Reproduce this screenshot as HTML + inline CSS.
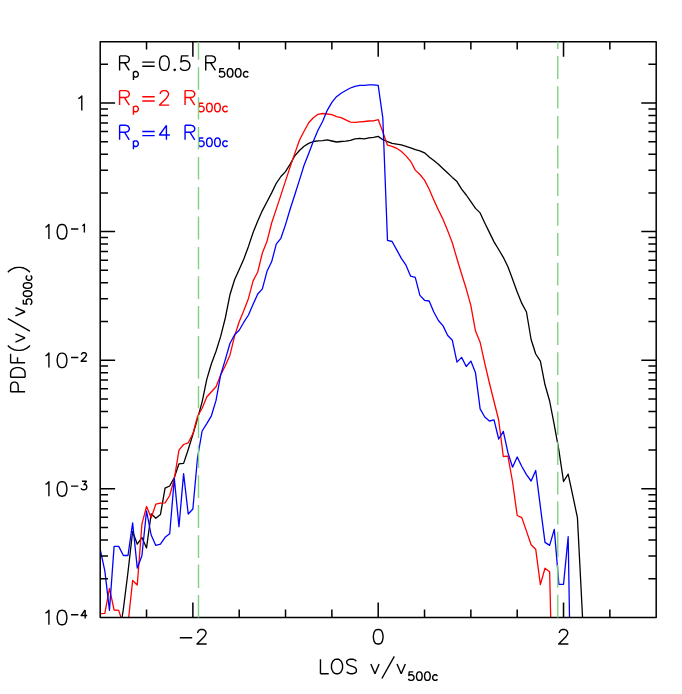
<!DOCTYPE html>
<html><head><meta charset="utf-8"><title>PDF of LOS velocity</title>
<style>html,body{margin:0;padding:0;background:#fff;font-family:"Liberation Sans",sans-serif}svg{display:block}</style></head>
<body>
<svg width="682" height="694" viewBox="0 0 682 694">
<rect width="682" height="694" fill="#fff"/>
<defs><clipPath id="c"><rect x="100.20" y="41.75" width="556.00" height="575.65"/></clipPath></defs>
<g clip-path="url(#c)" fill="none" stroke-width="1.30" stroke-linejoin="round" stroke-linecap="round">
<polyline points="118.73,640.00 123.37,609.00 128.00,572.00 132.63,531.50 137.27,544.20 141.90,537.50 146.53,548.00 151.17,513.80 155.80,518.20 160.43,514.60 165.07,488.10 169.70,486.00 174.33,477.50 178.97,463.80 183.60,463.40 188.23,449.50 192.87,434.50 197.50,418.80 202.13,401.80 206.77,379.40 211.40,363.70 216.03,351.20 220.67,336.40 225.30,318.00 229.93,294.80 234.57,279.80 239.20,269.60 243.83,258.90 248.47,246.40 253.10,232.50 257.73,221.00 262.37,210.60 267.00,201.80 271.63,192.90 276.27,183.30 280.90,176.50 285.53,171.60 290.17,164.00 294.80,155.90 299.43,150.50 304.07,146.30 308.70,143.40 313.33,141.50 317.97,140.90 322.60,140.60 327.23,139.90 331.87,141.00 336.50,142.00 341.13,141.50 345.77,141.20 350.40,140.40 355.03,138.90 359.67,138.30 364.30,138.80 368.93,137.90 373.57,137.40 378.20,136.40 382.83,139.70 387.47,141.60 392.10,143.40 396.73,144.10 401.37,144.90 406.00,146.40 410.63,147.80 415.27,149.60 419.90,150.80 424.53,152.80 429.17,156.90 433.80,160.60 438.43,164.30 443.07,168.70 447.70,173.00 452.33,177.40 456.97,181.60 461.60,189.20 466.23,195.00 470.87,201.70 475.50,208.40 480.13,212.90 484.77,222.90 489.40,232.40 494.03,241.90 498.67,249.50 503.30,257.30 507.93,266.80 512.57,279.30 517.20,292.00 521.83,303.40 526.47,312.00 531.10,339.50 535.73,354.00 540.37,361.10 545.00,384.80 549.63,401.00 554.27,424.80 558.90,450.40 563.53,481.50 568.17,474.10 572.80,495.70 577.43,517.70 582.07,608.00 586.70,700.00" stroke="#000"/>
<polyline points="100.20,613.70 104.83,613.30 109.47,588.30 114.10,610.00 118.73,610.40 123.37,625.00 128.00,624.00 132.63,580.50 137.27,585.00 141.90,524.20 146.53,506.40 151.17,517.80 155.80,504.20 160.43,503.20 165.07,502.80 169.70,495.50 174.33,478.50 178.97,450.20 183.60,444.50 188.23,442.80 192.87,433.80 197.50,416.50 202.13,408.30 206.77,397.00 211.40,391.80 216.03,386.70 220.67,375.00 225.30,365.70 229.93,355.20 234.57,336.10 239.20,321.80 243.83,310.50 248.47,298.40 253.10,280.90 257.73,272.00 262.37,253.00 267.00,241.30 271.63,223.00 276.27,209.10 280.90,195.10 285.53,180.90 290.17,166.90 294.80,153.40 299.43,140.20 304.07,131.30 308.70,122.80 313.33,117.70 317.97,114.30 322.60,113.50 327.23,114.00 331.87,114.70 336.50,116.60 341.13,117.70 345.77,119.90 350.40,122.10 355.03,122.30 359.67,121.80 364.30,121.50 368.93,121.00 373.57,120.90 378.20,119.60 382.83,132.00 387.47,145.20 392.10,146.30 396.73,148.30 401.37,151.50 406.00,155.90 410.63,161.30 415.27,170.10 419.90,174.50 424.53,180.10 429.17,189.20 433.80,199.90 438.43,210.00 443.07,219.40 447.70,230.80 452.33,242.80 456.97,258.70 461.60,274.00 466.23,288.80 470.87,305.70 475.50,331.10 480.13,342.30 484.77,363.30 489.40,383.00 494.03,401.50 498.67,420.00 503.30,456.50 507.93,456.20 512.57,482.00 517.20,515.50 521.83,517.70 526.47,531.10 531.10,544.70 535.73,549.30 540.37,584.60 545.00,568.20 549.63,571.70 554.27,768.00" stroke="#ff0000"/>
<polyline points="100.20,549.40 104.83,570.80 109.47,610.30 114.10,546.40 118.73,546.40 123.37,555.50 128.00,555.50 132.63,522.80 137.27,568.10 141.90,555.80 146.53,511.00 151.17,535.00 155.80,545.40 160.43,544.20 165.07,537.30 169.70,533.70 174.33,478.50 178.97,526.70 183.60,473.60 188.23,514.00 192.87,509.00 197.50,458.00 202.13,431.00 206.77,423.60 211.40,415.80 216.03,400.40 220.67,375.00 225.30,359.60 229.93,343.50 234.57,334.70 239.20,330.30 243.83,322.20 248.47,315.00 253.10,304.30 257.73,294.00 262.37,288.90 267.00,271.30 271.63,261.80 276.27,244.20 280.90,238.30 285.53,224.60 290.17,209.00 294.80,194.80 299.43,180.10 304.07,165.20 308.70,153.40 313.33,141.20 317.97,130.30 322.60,121.50 327.23,110.30 331.87,102.30 336.50,96.70 341.13,93.20 345.77,90.50 350.40,88.00 355.03,86.30 359.67,85.40 364.30,85.30 368.93,84.90 373.57,84.90 378.20,85.40 382.83,118.20 387.47,240.30 392.10,241.50 396.73,249.90 401.37,258.40 406.00,265.20 410.63,276.20 415.27,277.40 419.90,295.40 424.53,300.30 429.17,301.00 433.80,312.00 438.43,320.50 443.07,325.90 447.70,335.50 452.33,340.30 456.97,362.10 461.60,357.40 466.23,366.50 470.87,361.10 475.50,372.80 480.13,408.90 484.77,417.00 489.40,421.00 494.03,419.80 498.67,439.00 503.30,431.40 507.93,452.70 512.57,467.20 517.20,457.00 521.83,466.50 526.47,474.60 531.10,481.00 535.73,470.50 540.37,506.70 545.00,542.40 549.63,545.40 554.27,529.40 558.90,584.30 563.53,584.30 568.17,536.70 572.80,815.00" stroke="#0000ff"/>
</g>
<path d="M146.53 617.40 V609.60 M146.53 41.75 V49.55 M192.87 617.40 V602.50 M192.87 41.75 V56.65 M239.20 617.40 V609.60 M239.20 41.75 V49.55 M285.53 617.40 V609.60 M285.53 41.75 V49.55 M331.87 617.40 V609.60 M331.87 41.75 V49.55 M378.20 617.40 V602.50 M378.20 41.75 V56.65 M424.53 617.40 V609.60 M424.53 41.75 V49.55 M470.87 617.40 V609.60 M470.87 41.75 V49.55 M517.20 617.40 V609.60 M517.20 41.75 V49.55 M563.53 617.40 V602.50 M563.53 41.75 V56.65 M609.87 617.40 V609.60 M609.87 41.75 V49.55 M100.20 578.69 H108.00 M656.20 578.69 H648.40 M100.20 556.04 H108.00 M656.20 556.04 H648.40 M100.20 539.98 H108.00 M656.20 539.98 H648.40 M100.20 527.51 H108.00 M656.20 527.51 H648.40 M100.20 517.33 H108.00 M656.20 517.33 H648.40 M100.20 508.72 H108.00 M656.20 508.72 H648.40 M100.20 501.26 H108.00 M656.20 501.26 H648.40 M100.20 494.68 H108.00 M656.20 494.68 H648.40 M100.20 488.80 H115.10 M656.20 488.80 H641.30 M100.20 450.09 H108.00 M656.20 450.09 H648.40 M100.20 427.44 H108.00 M656.20 427.44 H648.40 M100.20 411.38 H108.00 M656.20 411.38 H648.40 M100.20 398.91 H108.00 M656.20 398.91 H648.40 M100.20 388.73 H108.00 M656.20 388.73 H648.40 M100.20 380.12 H108.00 M656.20 380.12 H648.40 M100.20 372.66 H108.00 M656.20 372.66 H648.40 M100.20 366.08 H108.00 M656.20 366.08 H648.40 M100.20 360.20 H115.10 M656.20 360.20 H641.30 M100.20 321.49 H108.00 M656.20 321.49 H648.40 M100.20 298.84 H108.00 M656.20 298.84 H648.40 M100.20 282.78 H108.00 M656.20 282.78 H648.40 M100.20 270.31 H108.00 M656.20 270.31 H648.40 M100.20 260.13 H108.00 M656.20 260.13 H648.40 M100.20 251.52 H108.00 M656.20 251.52 H648.40 M100.20 244.06 H108.00 M656.20 244.06 H648.40 M100.20 237.48 H108.00 M656.20 237.48 H648.40 M100.20 231.60 H115.10 M656.20 231.60 H641.30 M100.20 192.89 H108.00 M656.20 192.89 H648.40 M100.20 170.24 H108.00 M656.20 170.24 H648.40 M100.20 154.18 H108.00 M656.20 154.18 H648.40 M100.20 141.71 H108.00 M656.20 141.71 H648.40 M100.20 131.53 H108.00 M656.20 131.53 H648.40 M100.20 122.92 H108.00 M656.20 122.92 H648.40 M100.20 115.46 H108.00 M656.20 115.46 H648.40 M100.20 108.88 H108.00 M656.20 108.88 H648.40 M100.20 103.00 H115.10 M656.20 103.00 H641.30 M100.20 64.29 H108.00 M656.20 64.29 H648.40" stroke="#000" stroke-width="1.50" fill="none"/>
<rect x="100.20" y="41.75" width="556.00" height="575.65" fill="none" stroke="#000" stroke-width="1.50" stroke-linejoin="round"/>
<path d="M78.34 98.67 L79.72 97.98 L81.79 95.91 L81.79 110.40 M45.47 227.27 L46.85 226.58 L48.92 224.51 L48.92 239.00 M61.34 224.51 L59.27 225.20 L57.89 227.27 L57.20 230.72 L57.20 232.79 L57.89 236.24 L59.27 238.31 L61.34 239.00 L62.72 239.00 L64.79 238.31 L66.17 236.24 L66.86 232.79 L66.86 230.72 L66.17 227.27 L64.79 225.20 L62.72 224.51 L61.34 224.51 M71.05 228.97 L78.31 228.97 M82.35 225.74 L83.16 225.33 L84.37 224.12 L84.37 232.60 M45.47 355.87 L46.85 355.18 L48.92 353.11 L48.92 367.60 M61.34 353.11 L59.27 353.80 L57.89 355.87 L57.20 359.32 L57.20 361.39 L57.89 364.84 L59.27 366.91 L61.34 367.60 L62.72 367.60 L64.79 366.91 L66.17 364.84 L66.86 361.39 L66.86 359.32 L66.17 355.87 L64.79 353.80 L62.72 353.11 L61.34 353.11 M71.05 357.57 L78.31 357.57 M81.54 354.74 L81.54 354.34 L81.95 353.53 L82.35 353.13 L83.16 352.72 L84.77 352.72 L85.58 353.13 L85.98 353.53 L86.39 354.34 L86.39 355.15 L85.98 355.95 L85.17 357.16 L81.14 361.20 L86.79 361.20 M45.47 484.47 L46.85 483.78 L48.92 481.71 L48.92 496.20 M61.34 481.71 L59.27 482.40 L57.89 484.47 L57.20 487.92 L57.20 489.99 L57.89 493.44 L59.27 495.51 L61.34 496.20 L62.72 496.20 L64.79 495.51 L66.17 493.44 L66.86 489.99 L66.86 487.92 L66.17 484.47 L64.79 482.40 L62.72 481.71 L61.34 481.71 M71.05 486.17 L78.31 486.17 M81.95 481.32 L86.39 481.32 L83.96 484.55 L85.17 484.55 L85.98 484.96 L86.39 485.36 L86.79 486.57 L86.79 487.38 L86.39 488.59 L85.58 489.40 L84.37 489.80 L83.16 489.80 L81.95 489.40 L81.54 488.99 L81.14 488.19 M45.47 613.07 L46.85 612.38 L48.92 610.31 L48.92 624.80 M61.34 610.31 L59.27 611.00 L57.89 613.07 L57.20 616.52 L57.20 618.59 L57.89 622.04 L59.27 624.11 L61.34 624.80 L62.72 624.80 L64.79 624.11 L66.17 622.04 L66.86 618.59 L66.86 616.52 L66.17 613.07 L64.79 611.00 L62.72 610.31 L61.34 610.31 M71.05 614.77 L78.31 614.77 M85.17 609.92 L81.14 615.57 L87.19 615.57 M85.17 609.92 L85.17 618.40 M179.76 637.79 L192.18 637.79 M197.70 632.96 L197.70 632.27 L198.39 630.89 L199.08 630.20 L200.46 629.51 L203.22 629.51 L204.60 630.20 L205.29 630.89 L205.98 632.27 L205.98 633.65 L205.29 635.03 L203.91 637.10 L197.01 644.00 L206.67 644.00 M377.51 629.51 L375.44 630.20 L374.06 632.27 L373.37 635.72 L373.37 637.79 L374.06 641.24 L375.44 643.31 L377.51 644.00 L378.89 644.00 L380.96 643.31 L382.34 641.24 L383.03 637.79 L383.03 635.72 L382.34 632.27 L380.96 630.20 L378.89 629.51 L377.51 629.51 M559.39 632.96 L559.39 632.27 L560.08 630.89 L560.77 630.20 L562.15 629.51 L564.91 629.51 L566.29 630.20 L566.98 630.89 L567.67 632.27 L567.67 633.65 L566.98 635.03 L565.60 637.10 L558.70 644.00 L568.36 644.00 M320.46 659.21 L320.46 673.70 M320.46 673.70 L328.74 673.70 M335.64 659.21 L334.26 659.90 L332.88 661.28 L332.19 662.66 L331.50 664.73 L331.50 668.18 L332.19 670.25 L332.88 671.63 L334.26 673.01 L335.64 673.70 L338.40 673.70 L339.78 673.01 L341.16 671.63 L341.85 670.25 L342.54 668.18 L342.54 664.73 L341.85 662.66 L341.16 661.28 L339.78 659.90 L338.40 659.21 L335.64 659.21 M356.34 661.28 L354.96 659.90 L352.89 659.21 L350.13 659.21 L348.06 659.90 L346.68 661.28 L346.68 662.66 L347.37 664.04 L348.06 664.73 L349.44 665.42 L353.58 666.80 L354.96 667.49 L355.65 668.18 L356.34 669.56 L356.34 671.63 L354.96 673.01 L352.89 673.70 L350.13 673.70 L348.06 673.01 L346.68 671.63 M370.83 664.04 L374.97 673.70 M379.11 664.04 L374.97 673.70 M394.29 656.45 L381.87 678.53 M397.05 664.04 L401.19 673.70 M405.33 664.04 L401.19 673.70 M413.27 671.92 L409.23 671.92 L408.83 675.56 L409.23 675.15 L410.44 674.75 L411.65 674.75 L412.86 675.15 L413.67 675.96 L414.07 677.17 L414.07 677.98 L413.67 679.19 L412.86 680.00 L411.65 680.40 L410.44 680.40 L409.23 680.00 L408.83 679.59 L408.42 678.79 M418.92 671.92 L417.71 672.33 L416.90 673.54 L416.50 675.56 L416.50 676.77 L416.90 678.79 L417.71 680.00 L418.92 680.40 L419.73 680.40 L420.94 680.00 L421.74 678.79 L422.15 676.77 L422.15 675.56 L421.74 673.54 L420.94 672.33 L419.73 671.92 L418.92 671.92 M426.99 671.92 L425.78 672.33 L424.97 673.54 L424.57 675.56 L424.57 676.77 L424.97 678.79 L425.78 680.00 L426.99 680.40 L427.80 680.40 L429.01 680.00 L429.82 678.79 L430.22 676.77 L430.22 675.56 L429.82 673.54 L429.01 672.33 L427.80 671.92 L426.99 671.92 M437.49 675.96 L436.68 675.15 L435.87 674.75 L434.66 674.75 L433.85 675.15 L433.05 675.96 L432.64 677.17 L432.64 677.98 L433.05 679.19 L433.85 680.00 L434.66 680.40 L435.87 680.40 L436.68 680.00 L437.49 679.19 M10.61 391.80 L25.10 391.80 M10.61 391.80 L10.61 385.59 L11.30 383.52 L11.99 382.83 L13.37 382.14 L15.44 382.14 L16.82 382.83 L17.51 383.52 L18.20 385.59 L18.20 391.80 M10.61 377.31 L25.10 377.31 M10.61 377.31 L10.61 372.48 L11.30 370.41 L12.68 369.03 L14.06 368.34 L16.13 367.65 L19.58 367.65 L21.65 368.34 L23.03 369.03 L24.41 370.41 L25.10 372.48 L25.10 377.31 M10.61 362.82 L25.10 362.82 M10.61 362.82 L10.61 353.85 M17.51 362.82 L17.51 357.30 M7.85 345.57 L9.23 346.95 L11.30 348.33 L14.06 349.71 L17.51 350.40 L20.27 350.40 L23.72 349.71 L26.48 348.33 L28.55 346.95 L29.93 345.57 M15.44 342.12 L25.10 337.98 M15.44 333.84 L25.10 337.98 M7.85 318.66 L29.93 331.08 M15.44 315.90 L25.10 311.76 M15.44 307.62 L25.10 311.76 M23.32 299.68 L23.32 303.72 L26.96 304.12 L26.55 303.72 L26.15 302.51 L26.15 301.30 L26.55 300.09 L27.36 299.28 L28.57 298.88 L29.38 298.88 L30.59 299.28 L31.40 300.09 L31.80 301.30 L31.80 302.51 L31.40 303.72 L30.99 304.12 L30.19 304.53 M23.32 294.03 L23.73 295.24 L24.94 296.05 L26.96 296.45 L28.17 296.45 L30.19 296.05 L31.40 295.24 L31.80 294.03 L31.80 293.22 L31.40 292.01 L30.19 291.21 L28.17 290.80 L26.96 290.80 L24.94 291.21 L23.73 292.01 L23.32 293.22 L23.32 294.03 M23.32 285.96 L23.73 287.17 L24.94 287.98 L26.96 288.38 L28.17 288.38 L30.19 287.98 L31.40 287.17 L31.80 285.96 L31.80 285.15 L31.40 283.94 L30.19 283.13 L28.17 282.73 L26.96 282.73 L24.94 283.13 L23.73 283.94 L23.32 285.15 L23.32 285.96 M27.36 275.46 L26.55 276.27 L26.15 277.08 L26.15 278.29 L26.55 279.10 L27.36 279.90 L28.57 280.31 L29.38 280.31 L30.59 279.90 L31.40 279.10 L31.80 278.29 L31.80 277.08 L31.40 276.27 L30.59 275.46 M7.85 272.18 L9.23 270.80 L11.30 269.42 L14.06 268.04 L17.51 267.35 L20.27 267.35 L23.72 268.04 L26.48 269.42 L28.55 270.80 L29.93 272.18" stroke="#000" stroke-width="1.40" fill="none" stroke-linecap="butt" stroke-linejoin="round"/>
<path d="M119.61 55.91 L119.61 70.40 M119.61 55.91 L125.82 55.91 L127.89 56.60 L128.58 57.29 L129.27 58.67 L129.27 60.05 L128.58 61.43 L127.89 62.12 L125.82 62.81 L119.61 62.81 M124.44 62.81 L129.27 70.40 M133.45 71.45 L133.45 79.93 M133.45 72.66 L134.26 71.85 L135.07 71.45 L136.28 71.45 L137.09 71.85 L137.89 72.66 L138.30 73.87 L138.30 74.68 L137.89 75.89 L137.09 76.70 L136.28 77.10 L135.07 77.10 L134.26 76.70 L133.45 75.89 M142.27 62.12 L154.69 62.12 M142.27 66.26 L154.69 66.26 M163.66 55.91 L161.59 56.60 L160.21 58.67 L159.52 62.12 L159.52 64.19 L160.21 67.64 L161.59 69.71 L163.66 70.40 L165.04 70.40 L167.11 69.71 L168.49 67.64 L169.18 64.19 L169.18 62.12 L168.49 58.67 L167.11 56.60 L165.04 55.91 L163.66 55.91 M174.70 69.02 L174.01 69.71 L174.70 70.40 L175.39 69.71 L174.70 69.02 M188.50 55.91 L181.60 55.91 L180.91 62.12 L181.60 61.43 L183.67 60.74 L185.74 60.74 L187.81 61.43 L189.19 62.81 L189.88 64.88 L189.88 66.26 L189.19 68.33 L187.81 69.71 L185.74 70.40 L183.67 70.40 L181.60 69.71 L180.91 69.02 L180.22 67.64 M205.75 55.91 L205.75 70.40 M205.75 55.91 L211.96 55.91 L214.03 56.60 L214.72 57.29 L215.41 58.67 L215.41 60.05 L214.72 61.43 L214.03 62.12 L211.96 62.81 L205.75 62.81 M210.58 62.81 L215.41 70.40 M224.03 68.62 L220.00 68.62 L219.59 72.26 L220.00 71.85 L221.21 71.45 L222.42 71.45 L223.63 71.85 L224.44 72.66 L224.84 73.87 L224.84 74.68 L224.44 75.89 L223.63 76.70 L222.42 77.10 L221.21 77.10 L220.00 76.70 L219.59 76.29 L219.19 75.49 M229.69 68.62 L228.47 69.03 L227.67 70.24 L227.26 72.26 L227.26 73.47 L227.67 75.49 L228.47 76.70 L229.69 77.10 L230.49 77.10 L231.70 76.70 L232.51 75.49 L232.91 73.47 L232.91 72.26 L232.51 70.24 L231.70 69.03 L230.49 68.62 L229.69 68.62 M237.76 68.62 L236.55 69.03 L235.74 70.24 L235.34 72.26 L235.34 73.47 L235.74 75.49 L236.55 76.70 L237.76 77.10 L238.57 77.10 L239.78 76.70 L240.58 75.49 L240.99 73.47 L240.99 72.26 L240.58 70.24 L239.78 69.03 L238.57 68.62 L237.76 68.62 M248.25 72.66 L247.45 71.85 L246.64 71.45 L245.43 71.45 L244.62 71.85 L243.81 72.66 L243.41 73.87 L243.41 74.68 L243.81 75.89 L244.62 76.70 L245.43 77.10 L246.64 77.10 L247.45 76.70 L248.25 75.89" stroke="#000" stroke-width="1.40" fill="none" stroke-linecap="butt" stroke-linejoin="round"/>
<path d="M119.61 90.61 L119.61 105.10 M119.61 90.61 L125.82 90.61 L127.89 91.30 L128.58 91.99 L129.27 93.37 L129.27 94.75 L128.58 96.13 L127.89 96.82 L125.82 97.51 L119.61 97.51 M124.44 97.51 L129.27 105.10 M133.45 106.15 L133.45 114.63 M133.45 107.36 L134.26 106.55 L135.07 106.15 L136.28 106.15 L137.09 106.55 L137.89 107.36 L138.30 108.57 L138.30 109.38 L137.89 110.59 L137.09 111.40 L136.28 111.80 L135.07 111.80 L134.26 111.40 L133.45 110.59 M142.27 96.82 L154.69 96.82 M142.27 100.96 L154.69 100.96 M160.21 94.06 L160.21 93.37 L160.90 91.99 L161.59 91.30 L162.97 90.61 L165.73 90.61 L167.11 91.30 L167.80 91.99 L168.49 93.37 L168.49 94.75 L167.80 96.13 L166.42 98.20 L159.52 105.10 L169.18 105.10 M185.05 90.61 L185.05 105.10 M185.05 90.61 L191.26 90.61 L193.33 91.30 L194.02 91.99 L194.71 93.37 L194.71 94.75 L194.02 96.13 L193.33 96.82 L191.26 97.51 L185.05 97.51 M189.88 97.51 L194.71 105.10 M203.33 103.32 L199.30 103.32 L198.89 106.96 L199.30 106.55 L200.51 106.15 L201.72 106.15 L202.93 106.55 L203.74 107.36 L204.14 108.57 L204.14 109.38 L203.74 110.59 L202.93 111.40 L201.72 111.80 L200.51 111.80 L199.30 111.40 L198.89 110.99 L198.49 110.19 M208.99 103.32 L207.77 103.73 L206.97 104.94 L206.56 106.96 L206.56 108.17 L206.97 110.19 L207.77 111.40 L208.99 111.80 L209.79 111.80 L211.00 111.40 L211.81 110.19 L212.21 108.17 L212.21 106.96 L211.81 104.94 L211.00 103.73 L209.79 103.32 L208.99 103.32 M217.06 103.32 L215.85 103.73 L215.04 104.94 L214.64 106.96 L214.64 108.17 L215.04 110.19 L215.85 111.40 L217.06 111.80 L217.87 111.80 L219.08 111.40 L219.88 110.19 L220.29 108.17 L220.29 106.96 L219.88 104.94 L219.08 103.73 L217.87 103.32 L217.06 103.32 M227.55 107.36 L226.75 106.55 L225.94 106.15 L224.73 106.15 L223.92 106.55 L223.11 107.36 L222.71 108.57 L222.71 109.38 L223.11 110.59 L223.92 111.40 L224.73 111.80 L225.94 111.80 L226.75 111.40 L227.55 110.59" stroke="#ff0000" stroke-width="1.40" fill="none" stroke-linecap="butt" stroke-linejoin="round"/>
<path d="M119.61 125.31 L119.61 139.80 M119.61 125.31 L125.82 125.31 L127.89 126.00 L128.58 126.69 L129.27 128.07 L129.27 129.45 L128.58 130.83 L127.89 131.52 L125.82 132.21 L119.61 132.21 M124.44 132.21 L129.27 139.80 M133.45 140.85 L133.45 149.33 M133.45 142.06 L134.26 141.25 L135.07 140.85 L136.28 140.85 L137.09 141.25 L137.89 142.06 L138.30 143.27 L138.30 144.08 L137.89 145.29 L137.09 146.10 L136.28 146.50 L135.07 146.50 L134.26 146.10 L133.45 145.29 M142.27 131.52 L154.69 131.52 M142.27 135.66 L154.69 135.66 M166.42 125.31 L159.52 134.97 L169.87 134.97 M166.42 125.31 L166.42 139.80 M185.05 125.31 L185.05 139.80 M185.05 125.31 L191.26 125.31 L193.33 126.00 L194.02 126.69 L194.71 128.07 L194.71 129.45 L194.02 130.83 L193.33 131.52 L191.26 132.21 L185.05 132.21 M189.88 132.21 L194.71 139.80 M203.33 138.02 L199.30 138.02 L198.89 141.66 L199.30 141.25 L200.51 140.85 L201.72 140.85 L202.93 141.25 L203.74 142.06 L204.14 143.27 L204.14 144.08 L203.74 145.29 L202.93 146.10 L201.72 146.50 L200.51 146.50 L199.30 146.10 L198.89 145.69 L198.49 144.89 M208.99 138.02 L207.77 138.43 L206.97 139.64 L206.56 141.66 L206.56 142.87 L206.97 144.89 L207.77 146.10 L208.99 146.50 L209.79 146.50 L211.00 146.10 L211.81 144.89 L212.21 142.87 L212.21 141.66 L211.81 139.64 L211.00 138.43 L209.79 138.02 L208.99 138.02 M217.06 138.02 L215.85 138.43 L215.04 139.64 L214.64 141.66 L214.64 142.87 L215.04 144.89 L215.85 146.10 L217.06 146.50 L217.87 146.50 L219.08 146.10 L219.88 144.89 L220.29 142.87 L220.29 141.66 L219.88 139.64 L219.08 138.43 L217.87 138.02 L217.06 138.02 M227.55 142.06 L226.75 141.25 L225.94 140.85 L224.73 140.85 L223.92 141.25 L223.11 142.06 L222.71 143.27 L222.71 144.08 L223.11 145.29 L223.92 146.10 L224.73 146.50 L225.94 146.50 L226.75 146.10 L227.55 145.29" stroke="#0000ff" stroke-width="1.40" fill="none" stroke-linecap="butt" stroke-linejoin="round"/>
<path d="M198.50 41.75 V59.80 M198.50 67.30 V89.70 M198.50 97.20 V119.60 M198.50 127.00 V149.50 M198.50 156.90 V179.60 M198.50 186.90 V209.60 M198.50 216.50 V239.50 M198.50 246.90 V269.30 M198.50 276.20 V298.90 M198.50 306.00 V328.80 M198.50 336.10 V378.70 M198.50 386.00 V408.20 M198.50 415.20 V437.90 M198.50 445.20 V467.90 M198.50 475.20 V498.00 M198.50 505.00 V527.90 M198.50 535.20 V557.90 M198.50 564.50 V588.00 M198.50 595.00 V617.40" stroke="#80d180" stroke-width="1.4" fill="none"/>
<path d="M557.75 41.75 V49.10 M557.75 56.10 V78.90 M557.75 86.20 V108.60 M557.75 116.00 V138.50 M557.75 145.40 V168.40 M557.75 173.30 V196.00 M557.75 202.90 V225.70 M557.75 233.10 V255.90 M557.75 262.70 V285.40 M557.75 292.20 V315.20 M557.75 322.30 V345.00 M557.75 352.30 V375.00 M557.75 382.00 V404.90 M557.75 411.60 V435.00 M557.75 441.70 V465.00 M557.75 471.70 V494.40 M557.75 501.60 V524.60 M557.75 531.80 V557.30 M557.75 565.00 V587.60 M557.75 594.80 V617.40" stroke="#80d180" stroke-width="1.4" fill="none"/>
</svg>
</body></html>
